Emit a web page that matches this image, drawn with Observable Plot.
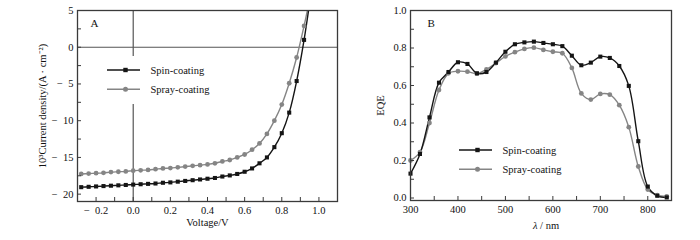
<!DOCTYPE html>
<html><head><meta charset="utf-8">
<script src="https://cdn.jsdelivr.net/npm/d3@7"></script>
<script src="https://cdn.jsdelivr.net/npm/@observablehq/plot@0.6"></script>
<style>
body{margin:0;background:#fff;}
#wrap{position:relative;width:700px;height:240px;font-family:"Liberation Serif","Times New Roman",serif;color:#111;overflow:hidden;}
.panel{position:absolute;top:0;}
.legend{position:absolute;background:#fff;}
.xt{position:absolute;font-size:10.5px;transform:translate(-50%,-50%);white-space:nowrap;}
</style></head><body>
<div id="wrap"></div>
<script>
// ---- Panel A: J–V curves ----
const voltage = [-0.28,-0.24,-0.20,-0.16,-0.12,-0.08,-0.04,0.00,0.04,0.08,0.12,0.16,0.20,0.24,0.28,0.32,0.36,0.40,0.44,0.48,0.52,0.56,0.60,0.64,0.68,0.72,0.76,0.80,0.84,0.88,0.92];
const spinJ = [-19.05,-19.0,-18.95,-18.9,-18.85,-18.8,-18.75,-18.7,-18.65,-18.6,-18.55,-18.45,-18.4,-18.3,-18.2,-18.1,-18.0,-17.9,-17.8,-17.6,-17.45,-17.25,-16.95,-16.5,-15.8,-15.0,-13.6,-11.7,-8.9,-4.6,1.0];
const sprayJ = [-17.25,-17.2,-17.15,-17.1,-17.0,-16.95,-16.9,-16.8,-16.75,-16.7,-16.6,-16.5,-16.45,-16.35,-16.25,-16.15,-16.05,-15.95,-15.8,-15.55,-15.35,-15.0,-14.6,-13.95,-13.1,-11.8,-10.0,-7.8,-4.9,-1.4,2.9];
// where each line leaves the top of the frame (no marker)
const tailV = [0.96];
const spinTailJ = [7.8];
const sprayTailJ = [7.7];
const xLabelsA = [-0.2,0,0.2,0.4,0.6,0.8,1.0];
const xTicksA = [-0.2,-0.1,0,0.1,0.2,0.3,0.4,0.5,0.6,0.7,0.8,0.9,1.0];
const yLabelsA = [5,0,-5,-10,-15,-20];
const yTicksA = [5,2.5,0,-2.5,-5,-7.5,-10,-12.5,-15,-17.5,-20];

// ---- Panel B: EQE ----
const wavelength = [300,320,340,360,380,400,420,440,460,480,500,520,540,560,580,600,620,640,660,680,700,720,740,760,780,800,820,840];
const spinEQE = [0.13,0.235,0.43,0.615,0.672,0.724,0.715,0.665,0.672,0.722,0.78,0.82,0.83,0.834,0.827,0.82,0.81,0.759,0.708,0.722,0.754,0.747,0.704,0.598,0.303,0.061,0.012,0.003];
const sprayEQE = [0.2,0.245,0.40,0.576,0.665,0.676,0.674,0.663,0.686,0.72,0.755,0.778,0.795,0.802,0.79,0.78,0.772,0.694,0.558,0.525,0.555,0.551,0.495,0.378,0.168,0.045,0.015,0.008];
const xLabelsB = [300,400,500,600,700,800];
const xTicksB = [350,400,450,500,550,600,650,700,750,800];
const yLabelsB = [0,0.2,0.4,0.6,0.8,1.0];
const yTicksB = [0,0.1,0.2,0.3,0.4,0.5,0.6,0.7,0.8,0.9,1.0];

const seriesNames = ["Spin-coating","Spray-coating"];
const BLACK = "#151515", GRAY = "#858585", FRAME = "#3a3a3a";

const spinA = voltage.map((v,i)=>({x:v,y:spinJ[i]}));
const sprayA = voltage.map((v,i)=>({x:v,y:sprayJ[i]}));
const spinALine = spinA.concat(tailV.map((v,i)=>({x:v,y:spinTailJ[i]})));
const sprayALine = sprayA.concat(tailV.map((v,i)=>({x:v,y:sprayTailJ[i]})));
const spinB = wavelength.map((w,i)=>({x:w,y:spinEQE[i]}));
const sprayB = wavelength.map((w,i)=>({x:w,y:sprayEQE[i]}));

// minus sign followed by an en space, as in the reference typesetting
const fmt = (f) => (d) => (d < 0 ? "\u2212\u2002" : "") + f(Math.abs(d));

const baseStyle = {fontFamily:'"Liberation Serif","Times New Roman",serif', fontSize:"10.5px", color:"#111", background:"transparent", overflow:"visible"};

const plotA = Plot.plot({
  width:350, height:240, marginLeft:77, marginRight:13, marginTop:10, marginBottom:39,
  style: baseStyle,
  x:{domain:[-0.3,1.1]},
  y:{domain:[-21,5]},
  marks:[
    Plot.ruleY([0],{stroke:"#555",strokeWidth:1.2}),
    Plot.ruleX([0],{stroke:"#555",strokeWidth:1.2}),
    Plot.line(sprayALine,{x:"x",y:"y",curve:"catmull-rom",stroke:GRAY,strokeWidth:1.4,clip:true}),
    Plot.line(spinALine,{x:"x",y:"y",curve:"catmull-rom",stroke:BLACK,strokeWidth:1.4,clip:true}),
    Plot.dot(sprayA,{x:"x",y:"y",symbol:"circle",r:2.4,fill:GRAY,stroke:null}),
    Plot.dot(spinA,{x:"x",y:"y",symbol:"square",r:2.3,fill:BLACK,stroke:null}),
    Plot.text(["A"],{frameAnchor:"top-left",dx:13,dy:9,textAnchor:"start",lineAnchor:"top",fontSize:11}),
    Plot.frame({stroke:FRAME,strokeWidth:1.3}),
    Plot.axisX({ticks:xLabelsA,tickFormat:fmt(d3.format(".1f")),tickSize:0,tickPadding:5,label:"Voltage/V",labelAnchor:"center",labelOffset:24,labelArrow:"none"}),
    Plot.axisX({ticks:xTicksA,tickSize:-4,fill:"none",stroke:FRAME,label:null}),
    Plot.axisY({ticks:yLabelsA,tickFormat:fmt(d3.format("d")),tickSize:0,tickPadding:4,label:"10³Current density/(A · cm⁻²)",labelAnchor:"center",labelOffset:39,labelArrow:"none"}),
    Plot.axisY({ticks:yTicksA,tickSize:-4,fill:"none",stroke:FRAME,label:null})
  ]
});

const plotB = Plot.plot({
  width:350, height:240, marginLeft:60, marginRight:29, marginTop:10, marginBottom:40,
  style: baseStyle,
  x:{domain:[300,850]},
  y:{domain:[-0.0133,1.0]},
  marks:[
    Plot.line(sprayB,{x:"x",y:"y",curve:"catmull-rom",stroke:GRAY,strokeWidth:1.4,clip:true}),
    Plot.line(spinB,{x:"x",y:"y",curve:"catmull-rom",stroke:BLACK,strokeWidth:1.4,clip:true}),
    Plot.dot(sprayB,{x:"x",y:"y",symbol:"circle",r:2.4,fill:GRAY,stroke:null}),
    Plot.dot(spinB,{x:"x",y:"y",symbol:"square",r:2.3,fill:BLACK,stroke:null}),
    Plot.text(["B"],{frameAnchor:"top-left",dx:17,dy:9,textAnchor:"start",lineAnchor:"top",fontSize:11}),
    Plot.frame({stroke:FRAME,strokeWidth:1.3}),
    Plot.axisX({ticks:xLabelsB,tickFormat:d3.format("d"),tickSize:0,tickPadding:5,label:null}),
    Plot.axisX({ticks:xTicksB,tickSize:-4,fill:"none",stroke:FRAME,label:null}),
    Plot.axisY({ticks:yLabelsB,tickFormat:d3.format(".1f"),tickSize:0,tickPadding:4,label:"EQE",labelAnchor:"center",labelOffset:34,labelArrow:"none"}),
    Plot.axisY({ticks:yTicksB,tickSize:-4,fill:"none",stroke:FRAME,label:null})
  ]
});

const wrap = document.getElementById("wrap");
function place(node, left){ const d=document.createElement("div"); d.className="panel"; d.style.left=left+"px"; d.appendChild(node); wrap.appendChild(d); }
place(plotA, 0);
place(plotB, 350);

// x-axis title of panel B (italic lambda)
const xt = document.createElement("div");
xt.className="xt"; xt.style.left="546px"; xt.style.top="225px";
xt.innerHTML = '<i>λ</i> / nm';
wrap.appendChild(xt);

// legends
function legend(left, top, w, h, bg){
  const d = document.createElement("div");
  d.className="legend"; d.style.left=left+"px"; d.style.top=top+"px"; d.style.width=w+"px"; d.style.height=h+"px";
  if(!bg) d.style.background="transparent";
  const rows = [[BLACK,"square"],[GRAY,"circle"]];
  let s = `<svg width="${w}" height="${h}" style="overflow:visible;font-family:'Liberation Serif','Times New Roman',serif;font-size:10.5px">`;
  rows.forEach(([c,sym],i)=>{
    const y = 14 + i*19.3;
    s += `<line x1="2" x2="35" y1="${y}" y2="${y}" stroke="${c}" stroke-width="1.6"/>`;
    if(sym==="square") s += `<rect x="${20.5-2.2}" y="${y-2.2}" width="4.4" height="4.4" fill="${c}"/>`;
    else s += `<circle cx="20.5" cy="${y}" r="2.5" fill="${c}"/>`;
    s += `<text x="45.5" y="${y+3.6}" fill="#111">${seriesNames[i]}</text>`;
  });
  s += `</svg>`;
  d.innerHTML = s;
  wrap.appendChild(d);
}
legend(105, 56, 112, 48, true);
legend(457, 136, 112, 44, false);
</script>
</body></html>
